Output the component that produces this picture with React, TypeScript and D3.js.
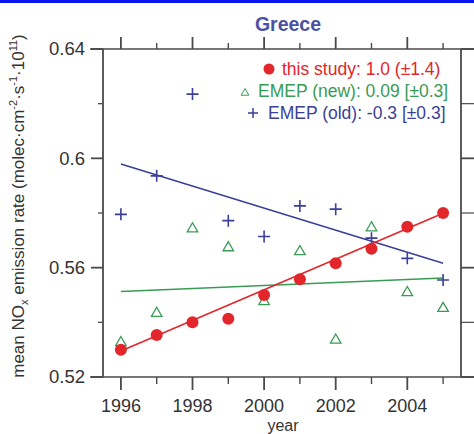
import { useEffect, useRef } from 'react';
import * as d3 from 'd3';

const years = [1996, 1997, 1998, 1999, 2000, 2001, 2002, 2003, 2004, 2005];
const thisStudy = [0.530, 0.5354, 0.540, 0.5413, 0.550, 0.5558, 0.5616, 0.5669, 0.575, 0.580];
const emepNew = [0.5326, 0.5433, 0.5742, 0.5673, 0.5476, 0.5659, 0.5335, 0.5746, 0.5509, 0.5451];
const emepOld = [0.5795, 0.5936, 0.6235, 0.5772, 0.5714, 0.5826, 0.5814, 0.5708, 0.5634, 0.5555];

// trend line end values (1996, 2005)
const thisStudyFit = [0.5295, 0.5799];
const emepNewFit = [0.5513, 0.5562];
const emepOldFit = [0.5979, 0.5616];

const yTicks = [0.52, 0.56, 0.6, 0.64];
const yMinorTicks = [0.54, 0.58, 0.62];
const xTicks = [1996, 1998, 2000, 2002, 2004];
const xMinorTicks = [1997, 1999, 2001, 2003, 2005];

const legendLabels = ['this study: 1.0 (\u00b11.4)', 'EMEP (new): 0.09 [\u00b10.3]', 'EMEP (old): -0.3 [\u00b10.3]'];

const width = 474;
const height = 434;
const plot = { left: 103, right: 461, top: 49, bottom: 377 };

const RED = '#e3262b';
const GREEN = '#3a9b55';
const BLUE = '#3b3f98';
const FRAME = '#4a4a4a';
const FONT = 'Liberation Sans, Arial, sans-serif';

const App = () => {
    const svgRef = useRef<SVGSVGElement>(null);

    useEffect(() => {
        d3.select(svgRef.current).selectAll('*').remove();
        const svg = d3.select(svgRef.current).attr('width', width).attr('height', height);

        const x = d3.scaleLinear().domain([1995.5, 2005.5]).range([plot.left, plot.right]);
        const y = d3.scaleLinear().domain([0.52, 0.64]).range([plot.bottom, plot.top]);

        // blue band on top
        svg.append('rect').attr('x', 0).attr('y', 0).attr('width', width).attr('height', 3).attr('fill', '#0a14f0');

        // frame
        const frame = svg.append('g').attr('stroke', FRAME).attr('fill', 'none');
        frame.append('line').attr('x1', 90).attr('x2', width).attr('y1', y(0.64)).attr('y2', y(0.64)).attr('stroke-width', 1.6);
        frame.append('line').attr('x1', 90).attr('x2', width).attr('y1', y(0.52)).attr('y2', y(0.52)).attr('stroke-width', 1.6);
        frame.append('line').attr('x1', plot.left).attr('x2', plot.left).attr('y1', y(0.64)).attr('y2', y(0.52)).attr('stroke-width', 1.8);
        frame.append('line').attr('x1', plot.right).attr('x2', plot.right).attr('y1', y(0.64)).attr('y2', y(0.52)).attr('stroke-width', 1.8);

        // y ticks left & right
        yTicks.forEach(t => {
            frame.append('line').attr('x1', 91).attr('x2', plot.left).attr('y1', y(t)).attr('y2', y(t)).attr('stroke-width', 1.8);
            frame.append('line').attr('x1', plot.right).attr('x2', plot.right + 14).attr('y1', y(t)).attr('y2', y(t)).attr('stroke-width', 1.8);
        });
        yMinorTicks.forEach(t => {
            frame.append('line').attr('x1', 98).attr('x2', plot.left).attr('y1', y(t)).attr('y2', y(t)).attr('stroke-width', 1.3);
            frame.append('line').attr('x1', plot.right).attr('x2', plot.right + 14).attr('y1', y(t)).attr('y2', y(t)).attr('stroke-width', 1.2);
        });
        // x ticks top & bottom
        xTicks.forEach(t => {
            frame.append('line').attr('x1', x(t)).attr('x2', x(t)).attr('y1', plot.bottom).attr('y2', plot.bottom + 13).attr('stroke-width', 1.8);
            frame.append('line').attr('x1', x(t)).attr('x2', x(t)).attr('y1', plot.top).attr('y2', plot.top - 12).attr('stroke-width', 1.8);
        });
        xMinorTicks.forEach(t => {
            frame.append('line').attr('x1', x(t)).attr('x2', x(t)).attr('y1', plot.bottom).attr('y2', plot.bottom + 7).attr('stroke-width', 1.4);
            frame.append('line').attr('x1', x(t)).attr('x2', x(t)).attr('y1', plot.top).attr('y2', plot.top - 6).attr('stroke-width', 1.4);
        });

        // tick labels
        svg.append('g')
            .selectAll('text')
            .data(yTicks)
            .join('text')
            .attr('x', 85)
            .attr('y', d => y(d))
            .attr('dy', '0.35em')
            .attr('text-anchor', 'end')
            .attr('font-family', FONT)
            .attr('font-size', 18.5)
            .attr('fill', '#333')
            .text(d => d3.format('~g')(d));

        svg.append('g')
            .selectAll('text')
            .data(xTicks)
            .join('text')
            .attr('x', d => x(d))
            .attr('y', 412)
            .attr('text-anchor', 'middle')
            .attr('font-family', FONT)
            .attr('font-size', 18)
            .attr('fill', '#333')
            .text(d => String(d));

        // axis titles
        svg.append('text')
            .attr('x', 283)
            .attr('y', 430.5)
            .attr('text-anchor', 'middle')
            .attr('font-family', FONT)
            .attr('font-size', 16)
            .attr('fill', '#333')
            .text('year');

        const yLabel = svg.append('text')
            .attr('transform', 'translate(24,206) rotate(-90)')
            .attr('text-anchor', 'middle')
            .attr('font-family', FONT)
            .attr('font-size', 17)
            .attr('fill', '#333');
        yLabel.append('tspan').text('mean NO');
        yLabel.append('tspan').attr('dy', 4).attr('font-size', 11).text('x');
        yLabel.append('tspan').attr('dy', -4).text(' emission rate (molec\u00b7cm');
        yLabel.append('tspan').attr('dy', -7).attr('font-size', 11).text('-2');
        yLabel.append('tspan').attr('dy', 7).text('\u00b7s');
        yLabel.append('tspan').attr('dy', -7).attr('font-size', 11).text('-1');
        yLabel.append('tspan').attr('dy', 7).text('\u00b710');
        yLabel.append('tspan').attr('dy', -7).attr('font-size', 11).text('11');
        yLabel.append('tspan').attr('dy', 7).text(')');

        svg.append('text')
            .attr('x', 288)
            .attr('y', 31)
            .attr('text-anchor', 'middle')
            .attr('font-family', FONT)
            .attr('font-size', 19.5)
            .attr('font-weight', 'bold')
            .attr('fill', '#4b52a3')
            .text('Greece');

        // trend lines
        const fitYears = [years[0], years[years.length - 1]];
        const line = d3.line<[number, number]>().x(d => x(d[0])).y(d => y(d[1]));
        const fits: [number[], string][] = [
            [emepNewFit, GREEN],
            [emepOldFit, BLUE],
            [thisStudyFit, RED],
        ];
        fits.forEach(([vals, color]) => {
            svg.append('path')
                .attr('d', line(fitYears.map((yr, i) => [yr, vals[i]] as [number, number])))
                .attr('fill', 'none')
                .attr('stroke', color)
                .attr('stroke-width', 1.6);
        });

        // EMEP old crosses
        const cs = 6;
        svg.append('g')
            .selectAll('path')
            .data(emepOld)
            .join('path')
            .attr('d', (d, i) => {
                const cx = x(years[i]);
                const cy = y(d);
                return `M${cx - cs},${cy}H${cx + cs}M${cx},${cy - cs}V${cy + cs}`;
            })
            .attr('stroke', BLUE)
            .attr('stroke-width', 1.6)
            .attr('fill', 'none');

        // EMEP new triangles
        const tri = d3.symbol().type(d3.symbolTriangle).size(48);
        svg.append('g')
            .selectAll('path')
            .data(emepNew)
            .join('path')
            .attr('transform', (d, i) => `translate(${x(years[i])},${y(d)})`)
            .attr('d', tri())
            .attr('fill', 'none')
            .attr('stroke', GREEN)
            .attr('stroke-width', 1.3);

        // this study dots
        svg.append('g')
            .selectAll('circle')
            .data(thisStudy)
            .join('circle')
            .attr('cx', (_d, i) => x(years[i]))
            .attr('cy', d => y(d))
            .attr('r', 6)
            .attr('fill', RED);

        // legend
        const legend = svg.append('g').attr('font-family', FONT).attr('font-size', 17.5);
        legend.append('circle').attr('cx', 269).attr('cy', 69).attr('r', 5.5).attr('fill', RED);
        legend.append('text').attr('x', 282).attr('y', 75).attr('fill', RED).text(legendLabels[0]);
        legend.append('path')
            .attr('transform', 'translate(245,93)')
            .attr('d', d3.symbol().type(d3.symbolTriangle).size(26)())
            .attr('fill', 'none')
            .attr('stroke', GREEN)
            .attr('stroke-width', 1);
        legend.append('text').attr('x', 258).attr('y', 97).attr('fill', GREEN).text(legendLabels[1]);
        legend.append('path')
            .attr('d', `M${253 - 5},113H${253 + 5}M253,${113 - 5}V${113 + 5}`)
            .attr('stroke', BLUE)
            .attr('stroke-width', 1.5);
        legend.append('text').attr('x', 268).attr('y', 119).attr('fill', BLUE).text(legendLabels[2]);
    }, []);

    return (
        <div style={{ position: 'fixed', left: 0, top: 0, background: '#fff' }}>
            <svg ref={svgRef} style={{ display: 'block' }}></svg>
        </div>
    );
};

export default App;
